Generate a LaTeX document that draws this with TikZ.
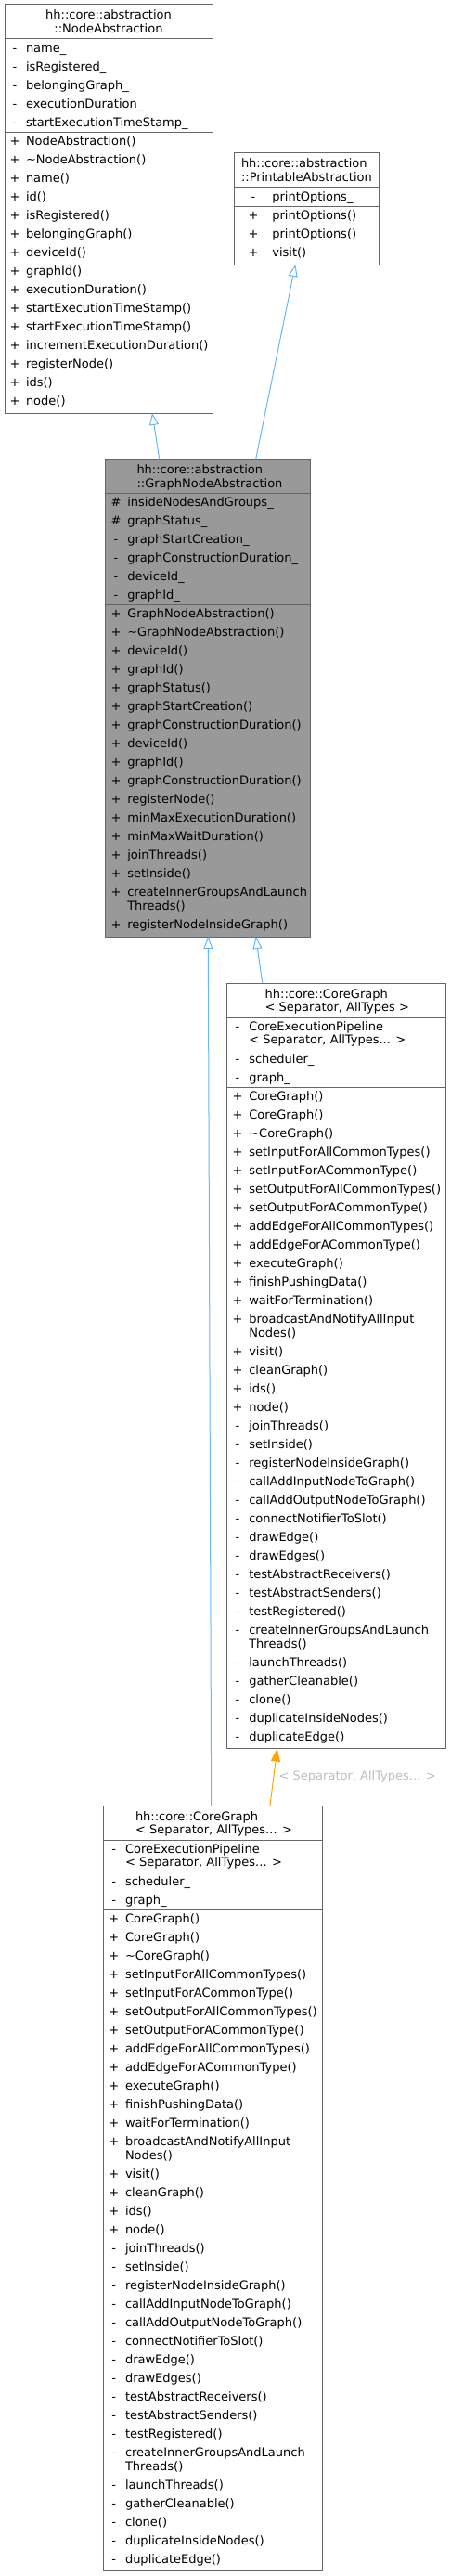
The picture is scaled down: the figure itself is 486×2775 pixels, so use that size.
\documentclass[tikz,border=0pt]{standalone}
\usepackage{fontspec}
\setmainfont{DejaVu Sans}
\usetikzlibrary{arrows.meta}
\definecolor{boxgray}{HTML}{666666}
\definecolor{fillgray}{HTML}{999999}
\definecolor{inhblue}{HTML}{63B8FF}
\definecolor{tplorange}{HTML}{FFA500}
\definecolor{lblgray}{HTML}{BEBEBE}
\tikzset{
  umlbox/.style={draw=boxgray, line width=1pt, inner sep=0pt, outer sep=0pt, anchor=north west, fill=white},
  divider/.style={draw=boxgray, line width=1pt},
  txt/.style={inner sep=0pt, outer sep=0pt, anchor=west, font=\fontsize{13}{15}\selectfont, text height=11pt, text depth=2pt, text=black},
  mk/.style={txt, anchor=center},
  ttl/.style={txt, anchor=center},
  inh/.style={draw=inhblue, line width=1pt, -{Triangle[open, length=13pt, width=10pt]}},
  tpl/.style={draw=tplorange, line width=1pt, -{Triangle[length=14pt, width=10pt, fill=tplorange]}},
  lbl/.style={txt, text=lblgray},
}
% #1 name, #2 top y, #3 left x, #4 title left x, #5 title line 2
\newcommand\cgmembers[5]{%
  \node[umlbox, minimum width=236.3pt, minimum height=824.5pt] (#1) at (#3,#2) {};
  \draw[divider] ([yshift=-37pt]#1.north west) -- ([yshift=-37pt]#1.north east);
  \draw[divider] ([yshift=-112pt]#1.north west) -- ([yshift=-112pt]#1.north east);
  \node[txt] (#1T1) at (#4,{#2+11.5}) {hh::core::CoreGraph};
  \node[txt] (#1T2) at (#4,{#2+26}) {#5};
  \foreach \o/\m/\t [count=\i] in {
    46.5/-/CoreExecutionPipeline, 81.5/-/scheduler\_, 101.5/-/graph\_,
    121.5/+/CoreGraph(), 141.5/+/CoreGraph(), 161.5/+/\textasciitilde CoreGraph(),
    181.5/+/setInputForAllCommonTypes(), 201.5/+/setInputForACommonType(),
    221.5/+/setOutputForAllCommonTypes(), 241.5/+/setOutputForACommonType(),
    261.5/+/addEdgeForAllCommonTypes(), 281.5/+/addEdgeForACommonType(),
    301.5/+/executeGraph(), 321.5/+/finishPushingData(), 341.5/+/waitForTermination(),
    361.5/+/broadcastAndNotifyAllInput, 396.5/+/visit(), 416.5/+/cleanGraph(),
    436.5/+/ids(), 456.5/+/node(), 476.5/-/joinThreads(), 496.5/-/setInside(),
    516.5/-/registerNodeInsideGraph(), 536.5/-/callAddInputNodeToGraph(),
    556.5/-/callAddOutputNodeToGraph(), 576.5/-/connectNotifierToSlot(),
    596.5/-/drawEdge(), 616.5/-/drawEdges(), 636.5/-/testAbstractReceivers(),
    656.5/-/testAbstractSenders(), 676.5/-/testRegistered(),
    696.5/-/createInnerGroupsAndLaunch, 731.5/-/launchThreads(),
    751.5/-/gatherCleanable(), 771.5/-/clone(), 791.5/-/duplicateInsideNodes(),
    811.5/-/duplicateEdge()} {
    \node[mk] (#1M\i) at ({#3+11.7},{#2+\o}) {\m};
    \node[txt] (#1X\i) at ({#3+24},{#2+\o}) {\t};
  }
  \foreach \o/\t [count=\i] in {61/{< Separator, AllTypes... >}, 376.5/Nodes(), 711.5/Threads()} {
    \node[txt] (#1C\i) at ({#3+24},{#2+\o}) {\t};
  }
}
\begin{document}
\begin{tikzpicture}[x=1pt,y=-1pt]
\fill[white] (0,0) rectangle (486,2775);
\useasboundingbox (0,0) rectangle (486,2775);

% NodeAbstraction
\node[umlbox, minimum width=224pt, minimum height=440pt] (na) at (5,5) {};
\draw[divider] ([yshift=-37pt]na.north west) -- ([yshift=-37pt]na.north east);
\draw[divider] ([yshift=-138pt]na.north west) -- ([yshift=-138pt]na.north east);
\node[ttl] (naT1) at (117,16.5) {hh::core::abstraction};
\node[ttl] (naT2) at (117,31.5) {::NodeAbstraction};
\foreach \y/\m/\t [count=\i] in {
  52/-/name\_, 72/-/isRegistered\_, 92/-/belongingGraph\_, 112/-/executionDuration\_,
  132/-/startExecutionTimeStamp\_,
  152/+/NodeAbstraction(), 172/+/\textasciitilde NodeAbstraction(), 192/+/name(), 212/+/id(),
  232/+/isRegistered(), 252/+/belongingGraph(), 272/+/deviceId(), 292/+/graphId(),
  312/+/executionDuration(), 332/+/startExecutionTimeStamp(), 352/+/startExecutionTimeStamp(),
  372/+/incrementExecutionDuration(), 392/+/registerNode(), 412/+/ids(), 432/+/node()} {
  \node[mk] (naM\i) at (16,\y) {\m};
  \node[txt] (naX\i) at (28,\y) {\t};
}

% PrintableAbstraction
\node[umlbox, minimum width=155.6pt, minimum height=120pt] (pa) at (252.7,165) {};
\draw[divider] ([yshift=-37pt]pa.north west) -- ([yshift=-37pt]pa.north east);
\draw[divider] ([yshift=-57pt]pa.north west) -- ([yshift=-57pt]pa.north east);
\node[txt] (paT1) at (260,176.5) {hh::core::abstraction};
\node[txt] (paT2) at (260,191.5) {::PrintableAbstraction};
\foreach \y/\m/\t [count=\i] in {212/-/printOptions\_, 232/+/printOptions(), 252/+/printOptions(), 272/+/visit()} {
  \node[mk] (paM\i) at (273,\y) {\m};
  \node[txt] (paX\i) at (293.3,\y) {\t};
}

% GraphNodeAbstraction
\node[umlbox, fill=fillgray, minimum width=221pt, minimum height=514.7pt] (gna) at (113.3,494.3) {};
\draw[divider] ([yshift=-37.2pt]gna.north west) -- ([yshift=-37.2pt]gna.north east);
\draw[divider] ([yshift=-157.2pt]gna.north west) -- ([yshift=-157.2pt]gna.north east);
\node[txt] (gnaT1) at (147.5,505.8) {hh::core::abstraction};
\node[txt] (gnaT2) at (147.5,520.8) {::GraphNodeAbstraction};
\foreach \y/\m/\t [count=\i] in {
  541/\#/insideNodesAndGroups\_, 561/\#/graphStatus\_, 581/-/graphStartCreation\_,
  601/-/graphConstructionDuration\_, 621/-/deviceId\_, 641/-/graphId\_,
  661/+/GraphNodeAbstraction(), 681/+/\textasciitilde GraphNodeAbstraction(), 701/+/deviceId(),
  721/+/graphId(), 741/+/graphStatus(), 761/+/graphStartCreation(),
  781/+/graphConstructionDuration(), 801/+/deviceId(), 821/+/graphId(),
  841/+/graphConstructionDuration(), 861/+/registerNode(), 881/+/minMaxExecutionDuration(),
  901/+/minMaxWaitDuration(), 921/+/joinThreads(), 941/+/setInside(),
  961/+/createInnerGroupsAndLaunch, 996/+/registerNodeInsideGraph()} {
  \node[mk] (gnaM\i) at (125,\y) {\m};
  \node[txt] (gnaX\i) at (137.3,\y) {\t};
}
\node[txt] (gnaC1) at (137.3,976) {Threads()};

% CoreGraph boxes
\cgmembers{cgA}{1059}{244.3}{285.7}{< Separator, AllTypes >}
\cgmembers{cgB}{1945}{111}{146}{< Separator, AllTypes... >}

% connectors
\draw[inh] ([xshift=58.4pt]gna.north west) -- ([xshift=159pt]na.south west);
\draw[inh] ([xshift=162.4pt]gna.north west) -- ([xshift=65.6pt]pa.south west);
\draw[inh] ([xshift=38.4pt]cgA.north west) -- ([xshift=162.4pt]gna.south west);
\draw[inh] ([xshift=116.7pt]cgB.north west) -- ([xshift=111pt]gna.south west);
\draw[tpl] ([xshift=180pt]cgB.north west) -- ([xshift=54.4pt]cgA.south west);
\node[lbl] (tplLbl) at (300.7,1912.7) {< Separator, AllTypes... >};
\end{tikzpicture}
\end{document}
